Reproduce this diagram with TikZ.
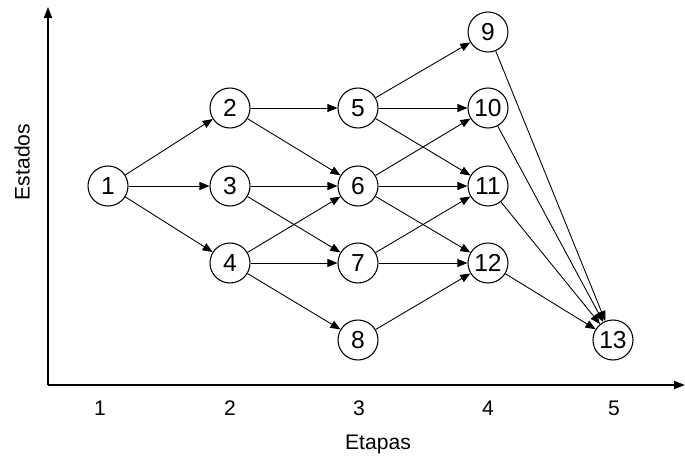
\documentclass[tikz,border=0pt]{standalone}
\usepackage{fontspec}
\setmainfont{Liberation Sans}
\usepackage{tikz}
\usetikzlibrary{arrows.meta, positioning}
\tikzset{every node/.style={font=\fontsize{12}{14}\selectfont}}

\begin{document}
\begin{tikzpicture}[
    state/.style={draw, circle, minimum size=0.8cm, inner sep=0pt, line width=0.6pt, fill=white, font=\fontsize{14}{16}\selectfont},
    edge/.style={-{Triangle[length=0.2cm, width=0.16cm]}, line width=0.5pt},
    axis/.style={-{Triangle[length=0.22cm, width=0.16cm]}, line width=0.8pt}]
    \useasboundingbox (0,0) rectangle (13.7,9.14);
    % axes
    \coordinate (o) at (0.96,1.44);
    \coordinate (ytop) at (0.96,9.0);
    \coordinate (xend) at (13.7,1.44);
    \draw[axis] (o) -- (ytop);
    \draw[axis] (o) -- (xend);
    \node[rotate=90] (ylab) at (0.44,5.9) {Estados};
    \node (xlab) at (7.56,0.26) {Etapas};
    \foreach \k/\x in {1/2.0, 2/4.6, 3/7.18, 4/9.76, 5/12.28}
      \node (t\k) at (\x,0.98) {\k};
    % states per stage
    \node[state] (n1) at (2.16,5.42) {1};
    \node[state] (n2) at (4.6,6.98) {2};
    \node[state] (n3) at (4.6,5.42) {3};
    \node[state] (n4) at (4.6,3.88) {4};
    \node[state] (n5) at (7.16,6.98) {5};
    \node[state] (n6) at (7.16,5.42) {6};
    \node[state] (n7) at (7.16,3.88) {7};
    \node[state] (n8) at (7.16,2.34) {8};
    \node[state] (n9) at (9.76,8.5) {9};
    \node[state] (n10) at (9.76,6.98) {10};
    \node[state] (n11) at (9.76,5.42) {11};
    \node[state] (n12) at (9.76,3.88) {12};
    \node[state] (n13) at (12.26,2.34) {13};
    % transitions
    \foreach \a/\b in {1/2, 1/3, 1/4, 2/5, 2/6, 3/6, 3/7, 4/6, 4/7, 4/8,
                       5/9, 5/10, 5/11, 6/10, 6/11, 6/12, 7/11, 7/12, 8/12,
                       9/13, 10/13, 11/13, 12/13}
      \draw[edge] (n\a) -- (n\b);
  \end{tikzpicture}
\end{document}
